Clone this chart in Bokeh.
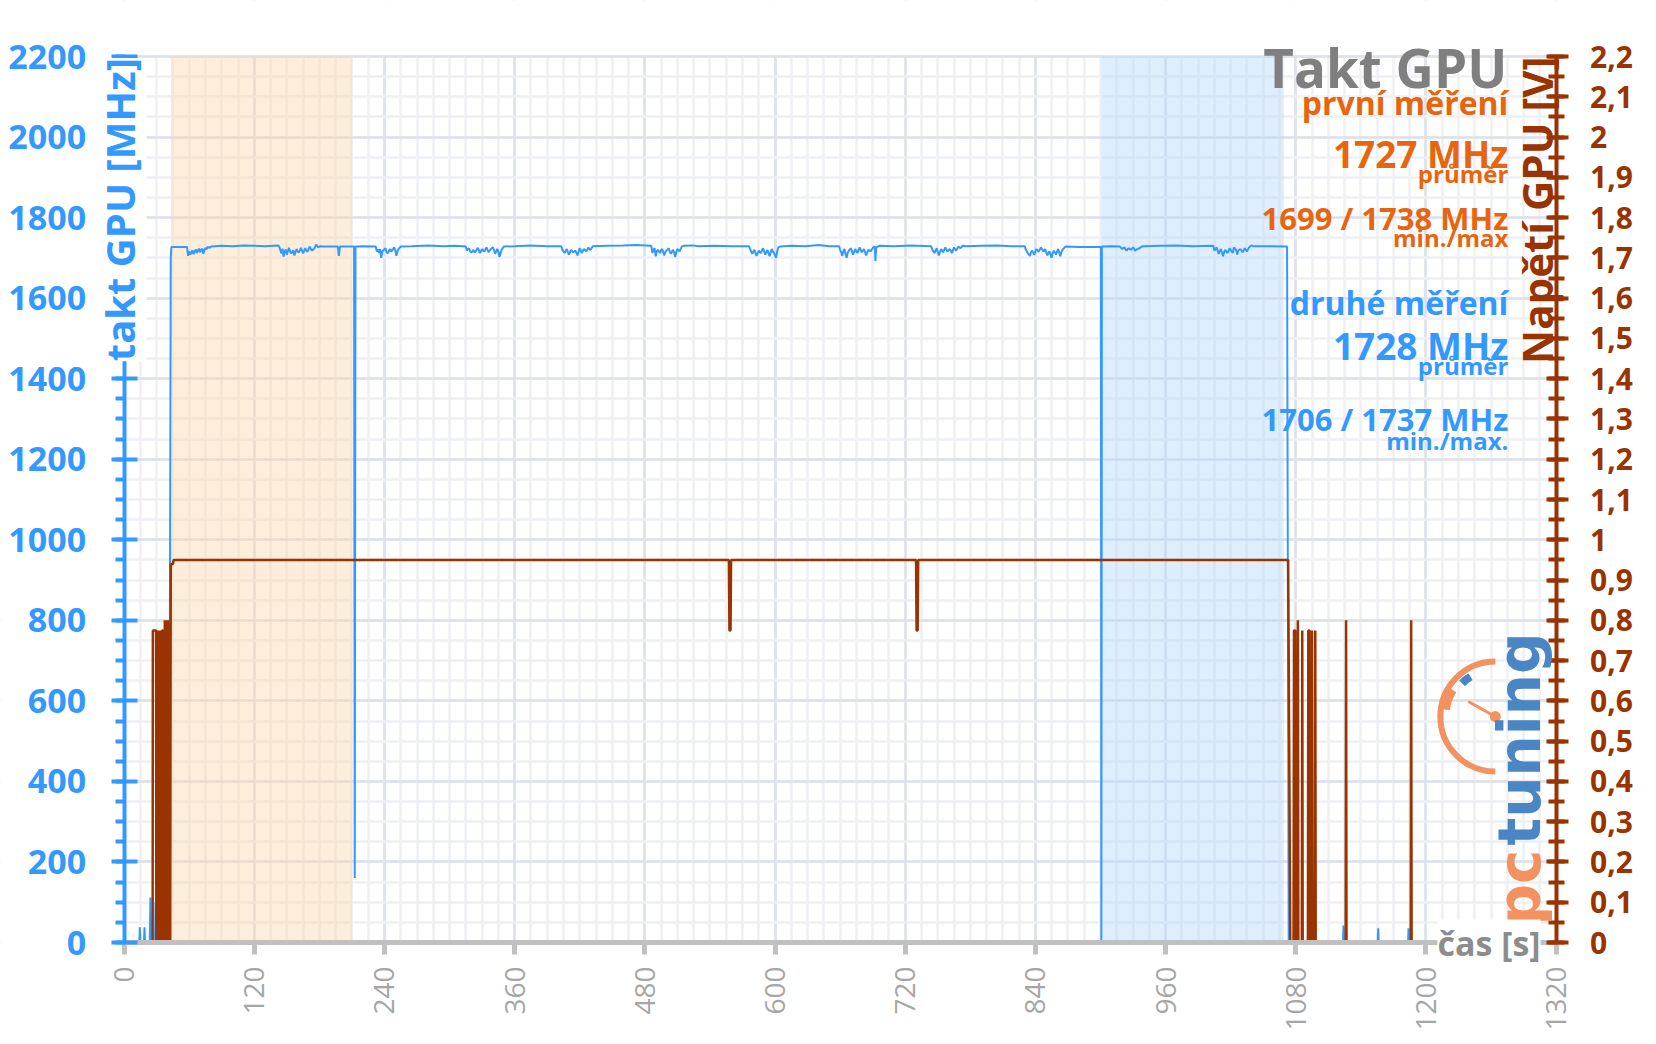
import math
from bokeh.plotting import figure
from bokeh.models import (Range1d, LinearAxis, FixedTicker, Label, BoxAnnotation, Grid,
                          CustomJSTickFormatter)
from bokeh.embed import file_html
from bokeh.resources import INLINE

# ---------------- data ----------------
# GPU clock [MHz] : (time s, MHz)
clock_samples = [
    (0, 0), (14, 0), (14.5, 38), (15, 0), (18.3, 0), (18.8, 38), (19.3, 0), (23.6, 0), (24.3, 112), (25, 0),
    (28.5, 0), (29, 100), (29.5, 0), (34.5, 0), (35, 500), (35.5, 0), (41.5, 0), (43, 1700), (43.6, 1727), (58, 1727),
    (59, 1705), (60, 1716), (61, 1708), (62, 1713), (63, 1719), (64, 1709), (65, 1716), (66, 1721), (67, 1712),
    (68, 1718), (69, 1723), (70, 1714), (71, 1720), (72, 1723), (73, 1710), (74, 1719), (75, 1725), (76, 1721),
    (77, 1727), (79, 1725), (80, 1728),
    (90, 1730), (100, 1729), (110, 1731), (120, 1730), (130, 1729), (142, 1731),
    (143, 1728), (145, 1711), (146, 1723), (147, 1703), (148, 1716), (149, 1721), (150, 1708), (152, 1725),
    (153, 1716), (154, 1711), (156, 1719), (157, 1706), (159, 1722), (160, 1716), (161, 1713), (163, 1725),
    (164, 1718), (165, 1711), (167, 1724), (168, 1718), (169, 1715), (171, 1728), (173, 1718), (175, 1722),
    (176, 1727), (177, 1733), (179, 1726), (181, 1729), (183, 1728),
    (190, 1728), (197, 1728), (198, 1705), (199, 1728), (212, 1728), (212.6, 160), (213.3, 1728),
    (220, 1729), (232, 1728), (233, 1716), (234, 1721), (235, 1712), (236, 1722), (237, 1700), (238, 1716),
    (239, 1719), (241, 1724), (242, 1714), (243, 1711), (245, 1722), (246, 1716), (247, 1718), (249, 1726),
    (250, 1719), (251, 1705), (252, 1716), (253, 1722), (255, 1728),
    (265, 1729), (280, 1731), (295, 1729), (305, 1730), (315, 1728),
    (316, 1718), (317, 1722), (318, 1724), (319, 1716), (320, 1713), (322, 1720), (323, 1714), (324, 1716),
    (326, 1725), (327, 1719), (328, 1712), (330, 1722), (331, 1718), (332, 1716), (334, 1726), (335, 1720),
    (336, 1714), (338, 1722), (340, 1726), (341, 1719), (342, 1710), (344, 1722), (345, 1716), (346, 1702),
    (348, 1720), (350, 1728),
    (360, 1729), (375, 1731), (390, 1729), (403, 1729),
    (404, 1720), (405, 1716), (406, 1712), (408, 1722), (409, 1715), (410, 1708), (412, 1720), (413, 1716),
    (414, 1714), (416, 1718), (418, 1706), (419, 1716), (420, 1724), (422, 1712), (423, 1718), (424, 1722),
    (426, 1716), (428, 1726), (429, 1721), (430, 1720), (432, 1729),
    (445, 1730), (460, 1731), (472, 1732), (486, 1730),
    (487, 1712), (488, 1720), (489, 1724), (490, 1704), (491, 1716), (492, 1720), (494, 1712), (495, 1719),
    (496, 1722), (498, 1706), (499, 1715), (500, 1718), (502, 1724), (503, 1716), (504, 1710), (506, 1720),
    (507, 1714), (508, 1702), (509, 1714), (510, 1722), (512, 1716), (514, 1728), (516, 1730),
    (524, 1731), (530, 1729), (545, 1730), (560, 1729), (576, 1729),
    (577, 1722), (578, 1716), (579, 1710), (581, 1720), (582, 1712), (583, 1705), (585, 1718), (586, 1714),
    (587, 1712), (589, 1724), (590, 1716), (591, 1708), (593, 1720), (594, 1712), (595, 1704), (597, 1722),
    (598, 1716), (599, 1712), (601, 1700), (602, 1716), (603, 1726), (605, 1728),
    (615, 1730), (628, 1729), (640, 1732), (650, 1729), (659, 1729),
    (660, 1720), (661, 1714), (662, 1705), (663, 1716), (664, 1722), (665, 1710), (666, 1700), (667, 1712),
    (668, 1718), (670, 1724), (671, 1716), (672, 1708), (674, 1722), (675, 1716), (676, 1712), (678, 1726),
    (679, 1720), (680, 1714), (682, 1722), (683, 1714), (684, 1706), (686, 1720), (687, 1718), (688, 1716),
    (690, 1724), (691, 1727), (692, 1728), (692.5, 1692), (693.3, 1726), (696, 1730),
    (710, 1729), (725, 1731), (744, 1729),
    (745, 1720), (746, 1716), (747, 1712), (749, 1724), (750, 1715), (751, 1706), (753, 1722), (754, 1718),
    (755, 1714), (757, 1726), (758, 1720), (759, 1716), (761, 1722), (762, 1718), (763, 1712), (765, 1726),
    (766, 1721), (767, 1718), (769, 1728), (771, 1724), (773, 1730), (776, 1729),
    (790, 1730), (805, 1731), (818, 1729), (830, 1729),
    (831, 1722), (832, 1716), (833, 1712), (835, 1705), (836, 1714), (837, 1718), (839, 1708), (840, 1716),
    (841, 1722), (843, 1715), (844, 1720), (845, 1726), (847, 1718), (848, 1716), (849, 1722), (851, 1706),
    (852, 1712), (853, 1716), (855, 1700), (856, 1712), (857, 1718), (859, 1708), (860, 1716), (861, 1722),
    (863, 1704), (864, 1714), (865, 1720), (867, 1726), (868, 1728),
    (880, 1727), (892, 1727), (900.4, 1727), (900.8, 0), (901.3, 1728),
    (910, 1729), (918, 1728), (920, 1722), (922, 1726), (924, 1718), (926, 1724), (928, 1720), (930, 1726),
    (932, 1718), (934, 1722), (936, 1724), (938, 1728), (941, 1729),
    (955, 1730), (970, 1731), (985, 1729), (1004, 1730),
    (1005, 1718), (1006, 1722), (1007, 1726), (1009, 1710), (1010, 1716), (1011, 1722), (1013, 1704),
    (1014, 1714), (1015, 1720), (1017, 1712), (1018, 1716), (1019, 1724), (1021, 1716), (1022, 1712),
    (1023, 1726), (1025, 1720), (1026, 1708), (1027, 1718), (1029, 1722), (1031, 1714), (1033, 1724),
    (1035, 1716), (1037, 1726), (1039, 1731), (1041, 1729),
    (1055, 1729), (1072, 1728), (1073.5, 0), (1123.5, 0), (1124, 42), (1124.5, 0), (1155.5, 0), (1156, 35),
    (1156.5, 0), (1183.5, 0), (1184, 35), (1184.5, 0), (1200, 0),
]

# GPU voltage [V] : (time s, V)
voltage_samples = [
    (0, 0), (26.3, 0), (26.5, 0.775), (29.5, 0.775), (29.7, 0), (30, 0.775), (30.5, 0), (31, 0.775),
    (31.5, 0), (32, 0.775), (32.5, 0), (33, 0.775), (33.5, 0), (34, 0.775), (34.5, 0), (35, 0.775),
    (35.8, 0.775), (36, 0), (37.3, 0), (37.5, 0.8), (38, 0), (38.5, 0.8), (39, 0), (39.5, 0.8), (40, 0),
    (40.5, 0.8), (41, 0), (42.5, 0), (43, 0.94), (45, 0.94), (45.6, 0.95),
    (557.5, 0.95), (558, 0.775), (559, 0.775), (559.5, 0.95),
    (730, 0.95), (730.5, 0.775), (731.5, 0.775), (732, 0.95),
    (1073, 0.95), (1075, 0), (1078, 0), (1078.4, 0.775), (1079.6, 0.775), (1080, 0), (1081.6, 0),
    (1082, 0.8), (1082.4, 0), (1085.6, 0), (1086, 0.775), (1086.4, 0), (1091.2, 0), (1091.6, 0.775),
    (1092.6, 0.775), (1093, 0), (1094.6, 0), (1095, 0.775), (1095.4, 0), (1097.6, 0), (1098, 0.775),
    (1098.4, 0), (1126, 0), (1126.4, 0.8), (1126.8, 0), (1186, 0), (1186.4, 0.8), (1186.8, 0), (1200, 0),
]

# measurement windows (s)
band_start = [43.4, 901]
band_end = [210.3, 1069]
band_colors = ["#fbd6b0", "#b9d9fa"]

# axis extents and ticks
x_max = 1320
y_max = 2200
v_max = 2.2
x_ticks = list(range(0, 1321, 120))
x_minor = list(range(0, 1321, 15))
y_ticks = list(range(0, 2201, 200))
y_minor = list(range(0, 2201, 50))
v_ticks = [round(i * 0.1, 1) for i in range(0, 23)]
v_minor = [round(i * 0.05, 2) for i in range(0, 45)]

# annotation texts
title_text = "Takt GPU"
first_texts = ["první měření", "1727 MHz", "průměr", "1699 / 1738 MHz", "min./max"]
second_texts = ["druhé měření", "1728 MHz", "průměr", "1706 / 1737 MHz", "min./max."]

# ---------------- layout (pixels) ----------------
W, H = 1656, 1044
PL, PR, PT, PB = 123.6, 1555.6, 56.0, 942.0   # plot area edges on the canvas
sx = (PR - PL) / x_max
sy = (PB - PT) / y_max
X0, X1 = -PL / sx, x_max + (W - PR) / sx
Y0, Y1 = -(H - PB) / sy, y_max + PT / sy

BLUE = "#3399ff"
BROWN = "#993300"
ORANGE = "#e8650f"
FONT = "Open Sans"

clock_t = [s[0] for s in clock_samples]
clock_v = [s[1] for s in clock_samples]
volt_t = [s[0] for s in voltage_samples]
volt_v = [s[1] for s in voltage_samples]

p = figure(width=W, height=H, output_backend="svg", toolbar_location=None,
           x_range=Range1d(X0, X1), y_range=Range1d(Y0, Y1),
           x_axis_location=None, y_axis_location=None,
           min_border_left=0, min_border_right=0, min_border_top=0, min_border_bottom=0)
p.title.visible = False
p.outline_line_color = None
p.background_fill_color = "white"
p.border_fill_color = "white"
p.extra_y_ranges = {"v": Range1d(Y0 / 1000.0, Y1 / 1000.0)}

# grid (own grids, drawn first)
p.center = [r for r in p.center if not isinstance(r, Grid)]
xt = FixedTicker(ticks=x_ticks, minor_ticks=x_minor)
yt = FixedTicker(ticks=y_ticks, minor_ticks=y_minor)
for dim, tk in ((0, xt), (1, yt)):
    g = Grid(dimension=dim, ticker=tk, level="image",
             grid_line_color="#dde1e8", grid_line_width=2.5,
             minor_grid_line_color="#eef0f4", minor_grid_line_width=2.5)
    p.add_layout(g, "center")

# white masks outside the plotting area (grid lines stop at the plot edges)
for kw in (dict(top=0), dict(bottom=y_max + 4), dict(right=0), dict(left=x_max)):
    p.add_layout(BoxAnnotation(fill_color="white", fill_alpha=1.0, line_color=None,
                               level="underlay", **kw))

# measurement bands
for s, e, c in zip(band_start, band_end, band_colors):
    p.add_layout(BoxAnnotation(left=s, right=e, bottom=0, top=y_max, fill_color=c,
                               fill_alpha=0.45, line_color=None, level="underlay"))

# bottom axis
xa = LinearAxis(ticker=xt, fixed_location=0, bounds=(0, x_max))
xa.axis_line_color = "#c0c0c0"
xa.axis_line_width = 5
xa.major_tick_line_color = "#c0c0c0"
xa.major_tick_line_width = 5
xa.major_tick_in = 0
xa.major_tick_out = 12
xa.minor_tick_line_color = None
xa.major_label_orientation = math.pi / 2
xa.major_label_text_font = FONT
xa.major_label_text_font_size = "28px"
xa.major_label_text_color = "#a6a6a6"
xa.major_label_standoff = 12
p.add_layout(xa, "below")

# left axis
ya = LinearAxis(ticker=yt, fixed_location=0, bounds=(0, y_max))
ya.axis_line_color = BLUE
ya.axis_line_width = 4
ya.major_tick_line_color = BLUE
ya.major_tick_line_width = 4
ya.major_tick_in = 13
ya.major_tick_out = 13
ya.minor_tick_line_color = BLUE
ya.minor_tick_line_width = 4
ya.minor_tick_in = 1
ya.minor_tick_out = 9
ya.major_label_text_font = FONT
ya.major_label_text_font_style = "bold"
ya.major_label_text_font_size = "34px"
ya.major_label_text_color = BLUE
ya.major_label_standoff = 25
p.add_layout(ya, "left")

# right axis
ra = LinearAxis(y_range_name="v", ticker=FixedTicker(ticks=v_ticks, minor_ticks=v_minor),
                fixed_location=x_max, bounds=(0, v_max),
                formatter=CustomJSTickFormatter(code="var s = tick.toFixed(1); if (s.endsWith('.0')) { s = s.slice(0, -2); } return s.replace('.', ',');"))
ra.axis_line_color = BROWN
ra.axis_line_width = 4
ra.major_tick_line_color = BROWN
ra.major_tick_line_width = 4
ra.major_tick_in = 10
ra.major_tick_out = 12
ra.minor_tick_line_color = BROWN
ra.minor_tick_line_width = 4
ra.minor_tick_in = 8
ra.minor_tick_out = 8
ra.major_label_text_font = FONT
ra.major_label_text_font_style = "bold"
ra.major_label_text_font_size = "30px"
ra.major_label_text_color = BROWN
ra.major_label_standoff = 22
p.add_layout(ra, "right")

# data lines
p.line(clock_t, clock_v, line_color=BLUE, line_width=2)
p.line(volt_t, volt_v, y_range_name="v", line_color=BROWN, line_width=2.5)

# logo (pctuning gauge)
LOGO_OR = "#f39160"
LOGO_BL = "#4a85c4"
cx, cy = 1264, 561
p.arc(x=[cx], y=[cy], radius=55, radius_units="screen", start_angle=math.radians(90),
      end_angle=math.radians(270), line_color=LOGO_OR, line_width=6)
p.arc(x=[cx], y=[cy], radius=51, radius_units="screen", start_angle=math.radians(148),
      end_angle=math.radians(172), line_color=LOGO_OR, line_width=10)
p.arc(x=[cx], y=[cy], radius=47, radius_units="screen", start_angle=math.radians(122),
      end_angle=math.radians(135), line_color=LOGO_BL, line_width=8)
p.ray(x=[cx], y=[cy], length=31, length_units="screen", angle=math.radians(151),
      line_color=LOGO_OR, line_width=3)
p.scatter(x=[cx], y=[cy], size=11, fill_color=LOGO_OR, line_color=None)


def lab(x, y, text, size, color, align="right", baseline="alphabetic", angle=0.0,
        style="bold", font=FONT, bg=None):
    kw = dict(x=x, y=y, x_units="data", y_units="data", text=text, text_font=font,
              text_font_style=style, text_font_size=size, text_color=color,
              text_align=align, text_baseline=baseline, angle=angle)
    if bg:
        kw.update(background_fill_color=bg, background_fill_alpha=1.0)
    p.add_layout(Label(**kw))


lab(1287, 42, "pc", "58px", LOGO_OR, align="left", angle=math.pi / 2, font="DejaVu Sans")
lab(1287, 241, "tuning", "58px", LOGO_BL, align="left", angle=math.pi / 2, font="DejaVu Sans")

# axis titles
lab(-4.7, 2196, "takt GPU [MHz]", "40px", BLUE, align="right", baseline="middle",
    angle=math.pi / 2, bg="white")
lab(1302, 2200, "Napětí GPU [V]", "42px", BROWN, align="right", baseline="middle",
    angle=math.pi / 2)
lab(1305.7, 0, "čas [s]", "34px", "#8c8c8c", align="right", baseline="middle", bg="white")

# right-hand summary texts
XT = 1276
lab(1275, 2173, title_text, "53px", "#7f7f7f")
first_y = [2086, 1959, 1910, 1800, 1751]
second_y = [1589, 1482, 1433, 1301, 1247]
sizes = ["32px", "37px", "24px", "31px", "24px"]
for t, y, s in zip(first_texts, first_y, sizes):
    lab(XT, y, t, s, ORANGE)
for t, y, s in zip(second_texts, second_y, sizes):
    lab(XT, y, t, s, BLUE)

with open("out.html", "w", encoding="utf-8") as f:
    f.write(file_html(p, INLINE))
